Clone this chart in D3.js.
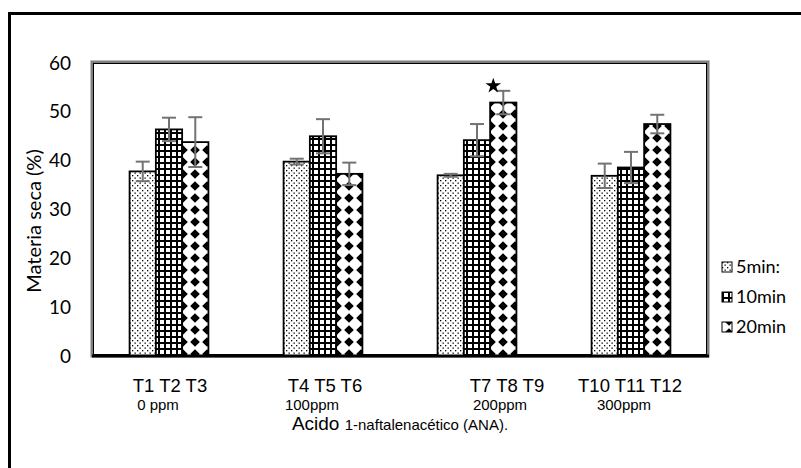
<!DOCTYPE html>
<html>
<head>
<meta charset="utf-8">
<script src="https://cdn.jsdelivr.net/npm/d3@7"></script>
<style>
  html, body { margin: 0; padding: 0; background: #fff; }
  svg { display: block; }
</style>
</head>
<body>
<div id="chart"></div>
<script>
// Data
const groups = ["0 ppm", "100ppm", "200ppm", "300ppm"];
const groupLabels = ["T1 T2 T3", "T4 T5 T6", "T7 T8 T9", "T10 T11 T12"];
const series = ["5min:", "10min", "20min"];
const values5 = [37.8, 39.8, 37.0, 36.9];
const values10 = [46.4, 45.0, 44.2, 38.6];
const values20 = [43.8, 37.3, 51.9, 47.5];
const err5 = [2.0, 0.6, 0.3, 2.5];
const err10 = [2.4, 3.5, 3.3, 3.2];
const err20 = [5.1, 2.3, 2.4, 1.9];
const yTicks = [0, 10, 20, 30, 40, 50, 60];
const starMark = { group: "200ppm", series: "20min" };

// hand-placed category text in the original (offsets from group centre)
const labelShift = [1, 2, 30, -1];
const subShift = [-11, -11, 23, -7];

const W = 801, H = 468;
const plot = { left: 92, right: 708, top: 62, bottom: 356 };

const svg = d3.select("#chart").append("svg")
  .attr("width", W).attr("height", H);

// Patterns
const defs = svg.append("defs");
const pDots = defs.append("pattern").attr("id", "pat0")
  .attr("patternUnits", "userSpaceOnUse").attr("width", 5).attr("height", 5);
pDots.append("rect").attr("width", 5).attr("height", 5).attr("fill", "#fff");
pDots.append("rect").attr("x", 0).attr("y", 0).attr("width", 1.3).attr("height", 1.3).attr("fill", "#000");
pDots.append("rect").attr("x", 2.5).attr("y", 2.5).attr("width", 1.3).attr("height", 1.3).attr("fill", "#000");

const pGrid = defs.append("pattern").attr("id", "pat1")
  .attr("patternUnits", "userSpaceOnUse").attr("width", 6).attr("height", 6);
pGrid.append("rect").attr("width", 6).attr("height", 6).attr("fill", "#000");
pGrid.append("rect").attr("x", 2).attr("y", 2).attr("width", 4).attr("height", 4).attr("fill", "#fff");

const pDia = defs.append("pattern").attr("id", "pat2")
  .attr("patternUnits", "userSpaceOnUse").attr("width", 12).attr("height", 12)
  .attr("x", 1).attr("y", 0);
pDia.append("rect").attr("width", 12).attr("height", 12).attr("fill", "#fff");
pDia.append("path").attr("d", "M6,1.2L10.8,6L6,10.8L1.2,6Z").attr("fill", "#000");

const fills = ["url(#pat0)", "url(#pat1)", "url(#pat2)"];

// Outer frame
svg.append("rect")
  .attr("x", 9.5).attr("y", 13.5).attr("width", W + 20).attr("height", H + 20)
  .attr("fill", "none").attr("stroke", "#000").attr("stroke-width", 3);

// Plot frame (gray double line)
svg.append("rect")
  .attr("x", plot.left).attr("y", plot.top)
  .attr("width", plot.right - plot.left).attr("height", plot.bottom - plot.top)
  .attr("fill", "none").attr("stroke", "#7f7f7f").attr("stroke-width", 3);
svg.append("rect")
  .attr("x", plot.left + 1.5).attr("y", plot.top + 1.5)
  .attr("width", plot.right - plot.left - 3).attr("height", plot.bottom - plot.top - 3)
  .attr("fill", "none").attr("stroke", "#000").attr("stroke-width", 1);

// Scales
const y = d3.scaleLinear().domain([0, 60]).range([plot.bottom, plot.top + 1]);
const x0 = d3.scaleBand().domain(groups).range([plot.left, plot.right]).padding(0);
const x1 = d3.scaleBand().domain(series).range([0, x0.bandwidth()])
  .paddingInner(0).paddingOuter(1.43);

const rows = groups.map((g, i) => ({
  group: g,
  label: groupLabels[i],
  i: i,
  bars: [
    { s: series[0], v: values5[i], e: err5[i], k: 0 },
    { s: series[1], v: values10[i], e: err10[i], k: 1 },
    { s: series[2], v: values20[i], e: err20[i], k: 2 }
  ]
}));

// Y axis tick labels
svg.append("g").selectAll("text").data(yTicks).join("text")
  .attr("x", 71).attr("y", d => y(d)).attr("dy", "0.35em")
  .attr("text-anchor", "end")
  .attr("font-family", "Lato, 'Open Sans', sans-serif").attr("font-size", 19)
  .text(d => d);

svg.append("text")
  .attr("transform", `translate(41,${(plot.top + plot.bottom) / 2 + 12}) rotate(-90)`)
  .attr("text-anchor", "middle")
  .attr("font-family", "Lato, 'Open Sans', sans-serif").attr("font-size", 20)
  .text("Materia seca (%)");

// Bars
const gGroups = svg.append("g").selectAll("g").data(rows).join("g")
  .attr("transform", d => `translate(${x0(d.group)},0)`);

gGroups.selectAll("rect").data(d => d.bars).join("rect")
  .attr("x", d => x1(d.s)).attr("y", d => y(d.v))
  .attr("width", x1.bandwidth()).attr("height", d => y(0) - y(d.v))
  .attr("fill", d => fills[d.k])
  .attr("stroke", "#000").attr("stroke-width", 1.8);

// Error bars
const eb = gGroups.selectAll("g.err").data(d => d.bars).join("g").attr("class", "err")
  .attr("stroke", "#737373").attr("stroke-width", 2);
eb.append("line")
  .attr("x1", d => x1(d.s) + x1.bandwidth() / 2).attr("x2", d => x1(d.s) + x1.bandwidth() / 2)
  .attr("y1", d => y(d.v + d.e)).attr("y2", d => y(d.v - d.e));
eb.append("line")
  .attr("x1", d => x1(d.s) + x1.bandwidth() / 2 - 7).attr("x2", d => x1(d.s) + x1.bandwidth() / 2 + 7)
  .attr("y1", d => y(d.v + d.e)).attr("y2", d => y(d.v + d.e));
eb.append("line")
  .attr("x1", d => x1(d.s) + x1.bandwidth() / 2 - 7).attr("x2", d => x1(d.s) + x1.bandwidth() / 2 + 7)
  .attr("y1", d => y(d.v - d.e)).attr("y2", d => y(d.v - d.e));

// Baseline
svg.append("line")
  .attr("x1", plot.left).attr("x2", plot.right + 1)
  .attr("y1", y(0)).attr("y2", y(0))
  .attr("stroke", "#000").attr("stroke-width", 3);

// Star
const starRow = rows[groups.indexOf(starMark.group)];
const starBar = starRow.bars.find(b => b.s === starMark.series);
svg.append("path")
  .attr("d", d3.symbol().type(d3.symbolStar).size(75)())
  .attr("transform", `translate(${x0(starMark.group) + x1(starMark.series) + x1.bandwidth() / 2 - 10},${y(starBar.v + starBar.e) - 5})`)
  .attr("fill", "#000");

// X labels
svg.append("g").selectAll("text").data(rows).join("text")
  .attr("x", d => x0(d.group) + x0.bandwidth() / 2 + labelShift[d.i]).attr("y", 392)
  .attr("text-anchor", "middle")
  .attr("font-family", "'Liberation Sans', Arial, sans-serif").attr("font-size", 18.5)
  .text(d => d.label);
svg.append("g").selectAll("text").data(rows).join("text")
  .attr("x", d => x0(d.group) + x0.bandwidth() / 2 + subShift[d.i]).attr("y", 410)
  .attr("text-anchor", "middle")
  .attr("font-family", "'Liberation Sans', Arial, sans-serif").attr("font-size", 15)
  .text(d => d.group);

const title = svg.append("text")
  .attr("x", 400).attr("y", 430).attr("text-anchor", "middle")
  .attr("font-family", "'Liberation Sans', Arial, sans-serif");
title.append("tspan").attr("font-size", 19).text("Acido ");
title.append("tspan").attr("font-size", 15).text("1-naftalenacético (ANA).");

// Legend
const legend = svg.append("g").selectAll("g").data(series).join("g")
  .attr("transform", (d, i) => `translate(722,${267 + i * 30})`);
legend.append("rect")
  .attr("x", 0).attr("y", -5).attr("width", 10).attr("height", 10)
  .attr("fill", (d, i) => fills[i]).attr("stroke", "#000").attr("stroke-width", 1);
legend.append("text")
  .attr("x", 14).attr("y", 0).attr("dy", "0.35em")
  .attr("font-family", "Lato, 'Open Sans', sans-serif").attr("font-size", 18)
  .text(d => d);
</script>
</body>
</html>
